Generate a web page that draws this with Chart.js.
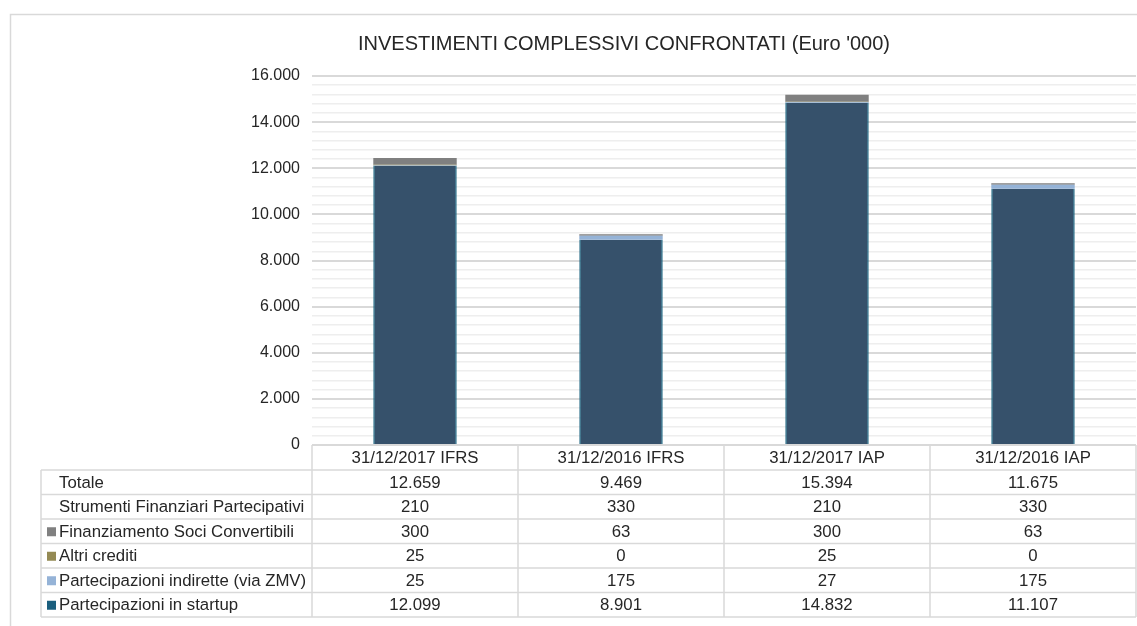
<!DOCTYPE html>
<html>
<head>
<meta charset="utf-8">
<script src="https://cdn.jsdelivr.net/npm/chart.js@4"></script>
<style>
  html, body { margin: 0; padding: 0; background: #ffffff; }
  #wrap { width: 1137px; height: 626px; }
</style>
</head>
<body>
<div id="wrap"><canvas id="c" width="1137" height="626"></canvas></div>
<script>
// ---- data ----
const categories = ['31/12/2017 IFRS', '31/12/2016 IFRS', '31/12/2017 IAP', '31/12/2016 IAP'];
const totale = [12659, 9469, 15394, 11675];
const strumentiFinanziari = [210, 330, 210, 330];
const finanziamentoSoci = [300, 63, 300, 63];
const altriCrediti = [25, 0, 25, 0];
const partecipazioniIndirette = [25, 175, 27, 175];
const partecipazioniStartup = [12099, 8901, 14832, 11107];
const yTicks = [0, 2000, 4000, 6000, 8000, 10000, 12000, 14000, 16000];

const FONT = '"Liberation Sans", Arial, Helvetica, sans-serif';
const TEXT = '#262626';
const LINE = '#d9d9d9';

function fmt(v) {
  return String(v).replace(/\B(?=(\d{3})+(?!\d))/g, '.');
}

const tableRows = [
  { label: 'Totale', values: totale, swatch: null },
  { label: 'Strumenti Finanziari Partecipativi', values: strumentiFinanziari, swatch: null },
  { label: 'Finanziamento Soci Convertibili', values: finanziamentoSoci, swatch: '#808080' },
  { label: 'Altri crediti', values: altriCrediti, swatch: '#948a54' },
  { label: 'Partecipazioni indirette (via ZMV)', values: partecipazioniIndirette, swatch: '#95b3d7' },
  { label: 'Partecipazioni in startup', values: partecipazioniStartup, swatch: '#1b5f7e' }
];

const framePlugin = {
  id: 'frame',
  beforeDraw(chart) {
    const ctx = chart.ctx;
    ctx.save();
    ctx.fillStyle = '#ffffff';
    ctx.fillRect(0, 0, chart.width, chart.height);
    ctx.strokeStyle = LINE;
    ctx.lineWidth = 1.5;
    ctx.strokeRect(10.5, 14.5, chart.width + 20, chart.height + 20);
    ctx.restore();
  }
};

const titlePlugin = {
  id: 'customTitle',
  afterDraw(chart) {
    const ctx = chart.ctx;
    ctx.save();
    ctx.fillStyle = TEXT;
    ctx.font = '20px ' + FONT;
    ctx.textAlign = 'center';
    ctx.textBaseline = 'middle';
    ctx.fillText("INVESTIMENTI COMPLESSIVI CONFRONTATI (Euro '000)", 624, 44);
    ctx.restore();
  }
};

const tablePlugin = {
  id: 'dataTable',
  afterDraw(chart) {
    const ctx = chart.ctx;
    const xs = chart.scales.x;
    const area = chart.chartArea;
    const n = categories.length;
    const bounds = [area.left];
    for (let i = 0; i < n - 1; i++) {
      bounds.push((xs.getPixelForValue(i) + xs.getPixelForValue(i + 1)) / 2);
    }
    bounds.push(area.right);
    const tableLeft = 41;
    const headTop = area.bottom;
    const headH = 25;
    const rowH = 24.5;
    const rowsTop = headTop + headH;
    const rowsBottom = rowsTop + rowH * tableRows.length;

    ctx.save();
    ctx.strokeStyle = LINE;
    ctx.lineWidth = 1.5;
    ctx.beginPath();
    ctx.moveTo(area.left, headTop); ctx.lineTo(area.right, headTop);
    for (let r = 0; r <= tableRows.length; r++) {
      const y = rowsTop + r * rowH;
      ctx.moveTo(tableLeft, y); ctx.lineTo(area.right, y);
    }
    ctx.moveTo(tableLeft, rowsTop); ctx.lineTo(tableLeft, rowsBottom);
    bounds.forEach(b => { ctx.moveTo(b, headTop); ctx.lineTo(b, rowsBottom); });
    ctx.stroke();

    ctx.fillStyle = TEXT;
    ctx.font = '16.8px ' + FONT;
    ctx.textBaseline = 'middle';
    ctx.textAlign = 'center';
    categories.forEach((c, i) => {
      ctx.fillText(c, xs.getPixelForValue(i), headTop + headH / 2 + 1);
    });
    tableRows.forEach((row, r) => {
      const yc = rowsTop + r * rowH + rowH / 2 + 1;
      ctx.textAlign = 'left';
      if (row.swatch) {
        ctx.fillStyle = row.swatch;
        ctx.fillRect(47, yc - 5, 9, 9);
      }
      ctx.fillStyle = TEXT;
      ctx.fillText(row.label, 59, yc);
      ctx.textAlign = 'center';
      row.values.forEach((v, i) => {
        ctx.fillText(fmt(v), xs.getPixelForValue(i), yc);
      });
    });
    ctx.restore();
  }
};

new Chart(document.getElementById('c'), {
  type: 'bar',
  data: {
    labels: categories,
    datasets: [
      {
        label: 'Partecipazioni in startup',
        data: partecipazioniStartup,
        backgroundColor: '#36516b',
        borderColor: '#17607e',
        borderWidth: { left: 1.5, right: 1.5, top: 0, bottom: 0 },
        borderSkipped: false
      },
      {
        label: 'Partecipazioni indirette (via ZMV)',
        data: partecipazioniIndirette,
        backgroundColor: '#95b3d7',
        borderWidth: 0
      },
      {
        label: 'Altri crediti',
        data: altriCrediti,
        backgroundColor: '#948a54',
        borderWidth: 0
      },
      {
        label: 'Finanziamento Soci Convertibili',
        data: finanziamentoSoci,
        backgroundColor: '#808080',
        borderWidth: 0
      }
    ]
  },
  options: {
    responsive: false,
    animation: false,
    maintainAspectRatio: false,
    layout: { padding: { left: 0, right: 1, top: 76, bottom: 181 } },
    plugins: {
      legend: { display: false },
      title: { display: false },
      tooltip: { enabled: false }
    },
    datasets: {
      bar: { categoryPercentage: 1.0, barPercentage: 0.405 }
    },
    scales: {
      x: {
        stacked: true,
        display: false,
        grid: { display: false }
      },
      y: {
        stacked: true,
        min: 0,
        max: 16000,
        border: { display: false },
        afterFit(scale) { scale.width = 312; },
        grid: {
          drawTicks: false,
          color: ctx => (ctx.tick && yTicks.includes(ctx.tick.value)) ? '#d9d9d9' : '#eeeeee',
          lineWidth: ctx => (ctx.tick && yTicks.includes(ctx.tick.value)) ? 2 : 1.5
        },
        ticks: {
          stepSize: 400,
          autoSkip: false,
          padding: 12,
          color: TEXT,
          font: { family: FONT, size: 16 },
          callback: v => yTicks.includes(v) ? fmt(v) : ''
        }
      }
    }
  },
  plugins: [framePlugin, titlePlugin, tablePlugin]
});
</script>
</body>
</html>
